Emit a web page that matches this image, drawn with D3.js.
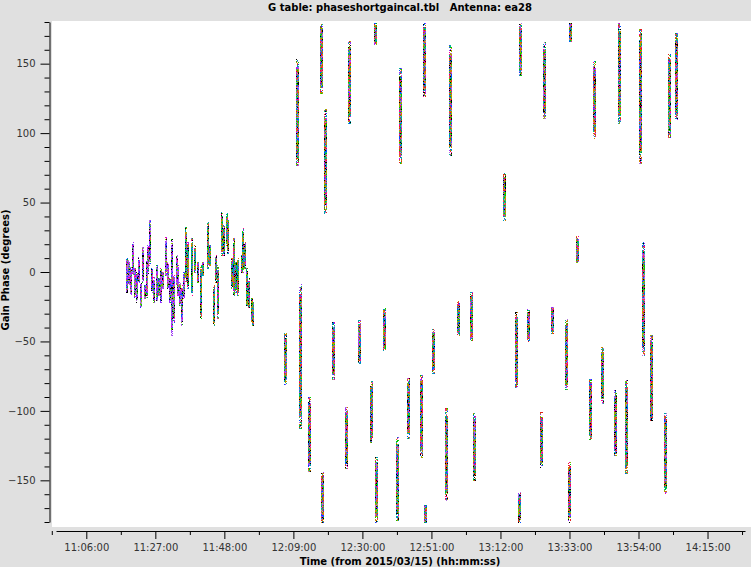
<!DOCTYPE html>
<html><head><meta charset="utf-8">
<script src="https://cdn.jsdelivr.net/npm/d3@7"></script>
<style>html,body{margin:0;padding:0;background:#e0e0e0;} svg{display:block;}</style>
</head><body>
<svg id="chart" width="751" height="567"></svg>
<script>
const title = "G table: phaseshortgaincal.tbl   Antenna: ea28";
const xTitle = "Time (from 2015/03/15) (hh:mm:ss)";
const yTitle = "Gain Phase (degrees)";
const xTickLabels = ["11:06:00","11:27:00","11:48:00","12:09:00","12:30:00","12:51:00","13:12:00","13:33:00","13:54:00","14:15:00"];
const yTickValues = [-150,-100,-50,0,50,100,150];

// Early (short-interval) solutions: time in minutes after 11:00:00, phase spread (deg)
const earlyTime = [18.48,18.99,19.51,20.30,20.82,21.34,22.04,22.65,23.35,23.86,24.38,24.87,25.39,26.09,26.69,27.42,28.12,28.73,29.43,30.16,30.77,31.47,32.17,32.78,33.51,34.00,34.51,35.03,35.73,36.34,37.04,38.26,39.08,40.08,40.81,41.61,42.94,43.64,44.86,45.47,46.17,47.39,48.00,48.73,49.21,50.25,50.95,51.47,52.26,53.29,53.78,54.30,54.99,55.60,56.34,56.82];
const earlyHigh = [9.8,8.6,3.8,21.8,2.6,0.2,11.0,-7.0,18.2,-9.4,8.6,19.4,37.4,2.6,-3.4,5.0,-4.5,2.6,0.2,25.4,7.4,-4.5,24.2,-2.2,12.2,5.0,-7.0,-9.4,0.2,32.6,21.8,24.2,19.4,7.4,5.0,7.4,36.2,19.4,-9.4,12.2,5.0,43.4,33.8,42.2,38.6,9.8,24.2,7.4,9.8,12.2,31.4,21.8,2.6,-4.5,-18.9,-20.1];
const earlyLow = [-14.2,-9.4,-16.5,-2.2,-17.8,-21.4,-8.1,-25.0,-7.0,-18.9,-17.8,-0.9,5.0,-14.2,-22.5,-21.4,-16.5,-21.4,-11.7,-2.2,-11.7,-21.4,-45.3,-35.8,-9.4,-16.5,-23.7,-38.1,-18.9,-7.0,-11.7,-16.5,0.2,-7.0,-33.3,-2.2,2.6,5.0,-38.1,-7.0,-33.3,12.2,12.2,19.4,13.5,-11.7,-16.5,-14.2,-16.5,0.2,0.2,2.6,-23.7,-26.1,-35.8,-38.1];

// Later scan solutions (phase wraps at +/-180)
const scanTime = [66.5,70.3,71.3,73.8,77.6,77.8,78.9,81.1,85.3,86.2,89.0,92.9,93.9,94.2,96.6,100.6,101.5,103.9,107.9,108.8,109.1,111.5,115.5,116.7,119.1,123.1,124.0,133.1,137.0,137.7,138.0,140.4,144.4,145.5,147.9,152.0,152.9,153.2,155.5,159.5,160.5,163.1,167.0,168.1,170.45,174.7,175.4,178.1,182.1,183.3,185.5];
const scanHigh = [-43.9,153.2,-8.6,-89.9,179,-143.9,117.3,-36,-97.1,166.9,-34.5,-78.4,179,-133,-25.9,-118.7,146.8,-76.3,-74.1,179,-167.6,-41,-97.8,163.3,-20.9,-14.4,-101.4,71.2,-28.8,-158.3,179,-26.6,-100.7,165.5,-25.2,-33.8,-136.7,179,25.9,-76.3,151.8,-54,-84.9,179,-77.7,174.8,21.6,-45.3,-100.7,157.6,171.9];
const scanLow = [-80.6,77.0,-112.2,-143.2,128.8,-180,42.4,-77,-141,107.2,-66.2,-122.3,164,-180,-57.6,-178.4,78.4,-119.4,-133.1,126.6,-180,-72.7,-164,84.2,-45.3,-48.9,-149.6,37.4,-82.7,-180,141.7,-49.6,-140.3,110.8,-43.9,-84.2,-180,166.2,7.2,-120.1,96.4,-94.2,-131.7,107.2,-144.6,78.4,-59.7,-106.5,-159,97.1,109.4];

const paletteA = ["#9a30ff","#b070e0","#9a30ff","#ff0090","#00c800","#b070e0","#0050ff","#000000","#80c000","#9a30ff"];
const paletteB = ["#0099b0","#d08000","#00c800","#80c000","#0099b0","#ff0090","#000000","#d08000","#0099b0","#9a30ff"];
const paletteC = ["#00c800","#ff0090","#d08000","#0099b0","#000000","#0050ff","#9a30ff","#80c000","#e02020","#00b0a0","#b070e0","#d08000"];

const svg = d3.select("#chart");
const W = 751, H = 567;

const x = d3.scaleLinear().domain([-3.22, 206.4]).range([56, 745]);
const y = d3.scaleLinear().domain([-180, 180]).range([522, 22]);

// background
svg.append("rect").attr("width", W).attr("height", H).attr("fill", "#e0e0e0");
svg.append("rect").attr("x", 52).attr("y", 21).attr("width", W - 52).attr("height", 506).attr("fill", "#ffffff");

function hash(a, b) {
  let h = (a * 73856093) ^ (b * 19349663) ^ (a * b * 83492791);
  h = (h ^ (h >>> 13)) >>> 0;
  return h;
}

const cells = svg.append("g");
function drawStreak(t, hi, lo, w, pal, idx) {
  const cx = Math.round(x(t) - w / 2);
  const y0 = Math.round(y(hi)), y1 = Math.round(y(lo));
  const len = Math.max(1, y1 - y0);
  for (let yy = y0; yy <= y1; yy++) {
    const f = Math.min(yy - y0, y1 - yy) / len;
    for (let c = 0; c < w; c++) {
      const h = hash(idx * 7 + c + 1, yy + 11);
      if (len > 20 && f < 0.08 && (h >>> 5) % 3 === 0) continue;
      const col = pal[h % pal.length];
      cells.append("rect").attr("x", cx + c).attr("y", yy).attr("width", 1).attr("height", 1).attr("fill", col);
    }
  }
}
earlyTime.forEach((t, i) => {
  const pal = t < 36 ? paletteA : paletteB;
  drawStreak(t, earlyHigh[i], earlyLow[i], 2, pal, i + 1);
});
scanTime.forEach((t, i) => {
  drawStreak(t, scanHigh[i], scanLow[i], 3, paletteC, i + 101);
});

// axes
const parseMin = s => { const p = s.split(":").map(Number); return (p[0] - 11) * 60 + p[1] + p[2] / 60; };
const xMajor = xTickLabels.map(parseMin);
const xMinor = xMajor.map(v => v - 10.5).concat([xMajor[xMajor.length - 1] + 10.5]);

const gx = svg.append("g").attr("transform", "translate(0,531)");
gx.call(d3.axisBottom(x).tickValues(xMajor).tickSize(8).tickSizeOuter(0).tickPadding(5)
  .tickFormat((d, i) => xTickLabels[i]));
svg.append("g").attr("transform", "translate(0,531)")
  .call(d3.axisBottom(x).tickValues(xMinor).tickSize(4).tickSizeOuter(0).tickFormat(""))
  .select(".domain").remove();

const yMinor = d3.range(-180, 181, 10).filter(v => v % 50 !== 0);
const gy = svg.append("g").attr("transform", "translate(49.5,0)");
gy.call(d3.axisLeft(y).tickValues(yTickValues).tickSize(9).tickSizeOuter(0).tickPadding(5));
svg.append("g").attr("transform", "translate(49.5,0)")
  .call(d3.axisLeft(y).tickValues(yMinor).tickSize(5).tickSizeOuter(0).tickFormat(""))
  .select(".domain").remove();

svg.selectAll(".tick text").attr("font-family", "DejaVu Sans").attr("font-size", 10).attr("fill", "#333");
svg.selectAll(".domain, .tick line").attr("stroke", "#000");

svg.append("text").attr("x", 400).attr("y", 11).attr("text-anchor", "middle")
  .attr("font-family", "DejaVu Sans").attr("font-weight", "bold").attr("font-size", 10)
  .style("white-space", "pre").text(title);
svg.append("text").attr("x", 400).attr("y", 565).attr("text-anchor", "middle")
  .attr("font-family", "DejaVu Sans").attr("font-weight", "bold").attr("font-size", 10)
  .text(xTitle);
svg.append("text").attr("transform", "translate(9,270) rotate(-90)").attr("text-anchor", "middle")
  .attr("font-family", "DejaVu Sans").attr("font-weight", "bold").attr("font-size", 10)
  .text(yTitle);
</script>
</body></html>
